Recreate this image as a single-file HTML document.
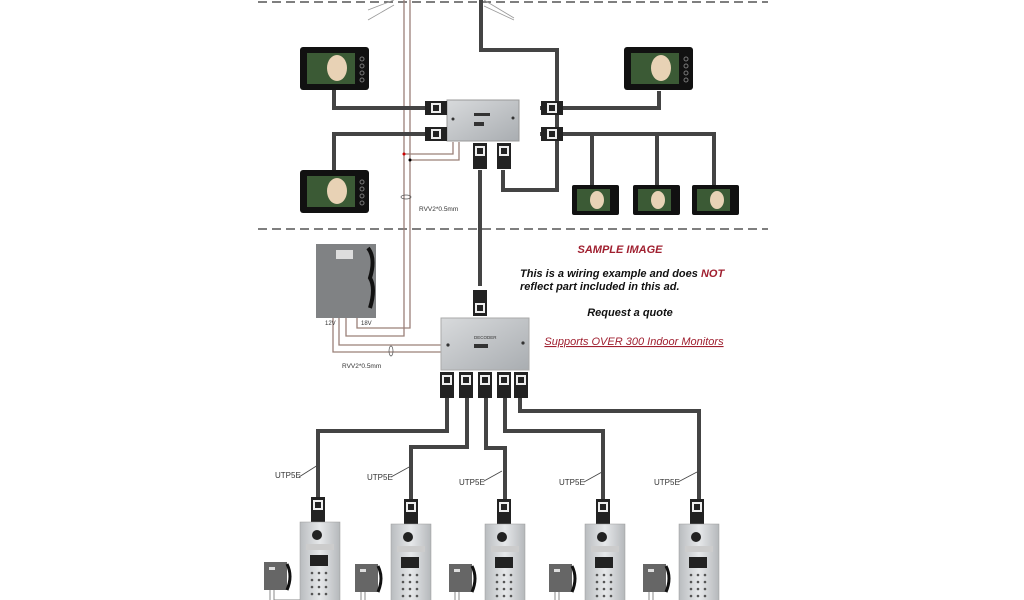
<!DOCTYPE html>
<html><head><style>
body{margin:0;background:#fff;}
svg{display:block;font-family:"Liberation Sans",sans-serif;}
</style></head><body>
<svg width="1024" height="600" viewBox="0 0 1024 600" xmlns="http://www.w3.org/2000/svg">
<defs>
<linearGradient id="g" x1="0" y1="0" x2="1" y2="1"><stop offset="0" stop-color="#d8dadc"/><stop offset="1" stop-color="#a9adb1"/></linearGradient>
<linearGradient id="p" x1="0" y1="0" x2="1" y2="0"><stop offset="0" stop-color="#b9bcbf"/><stop offset=".5" stop-color="#e6e8ea"/><stop offset="1" stop-color="#b5b8bb"/></linearGradient>
<g id="mon"><rect x="0" y="0" width="69" height="43" rx="3" fill="#111"/><rect x="7" y="6" width="48" height="31" fill="#3b5a35"/><ellipse cx="37" cy="21" rx="10" ry="13" fill="#e8d2b5"/><circle cx="62" cy="12" r="2" fill="none" stroke="#777"/><circle cx="62" cy="19" r="2" fill="none" stroke="#777"/><circle cx="62" cy="26" r="2" fill="none" stroke="#777"/><circle cx="62" cy="33" r="2" fill="none" stroke="#777"/></g>
<g id="smon"><rect x="0" y="0" width="47" height="30" rx="2" fill="#111"/><rect x="5" y="4" width="33" height="22" fill="#3b5a35"/><ellipse cx="25" cy="15" rx="7" ry="9" fill="#e8d2b5"/></g>
<g id="conv"><rect x="-7" y="0" width="14" height="26" fill="#222"/><rect x="-5" y="3" width="10" height="10" fill="#eee"/><rect x="-3" y="5" width="6" height="6" fill="#222"/></g>
<g id="conh"><rect x="0" y="-7" width="22" height="14" fill="#222"/><rect x="6" y="-5" width="10" height="10" fill="#eee"/><rect x="8" y="-3" width="6" height="6" fill="#222"/></g>
<g id="panel"><rect x="-20" y="0" width="40" height="80" fill="url(#p)" stroke="#999" stroke-width=".5"/><circle cx="-3" cy="13" r="5" fill="#222"/><rect x="-14" y="22" width="28" height="6" fill="#ccc"/><rect x="-10" y="33" width="18" height="11" fill="#222"/>
<g fill="#555"><circle cx="-8" cy="51" r="1.3"/><circle cx="-1" cy="51" r="1.3"/><circle cx="6" cy="51" r="1.3"/><circle cx="-8" cy="58" r="1.3"/><circle cx="-1" cy="58" r="1.3"/><circle cx="6" cy="58" r="1.3"/><circle cx="-8" cy="65" r="1.3"/><circle cx="-1" cy="65" r="1.3"/><circle cx="6" cy="65" r="1.3"/><circle cx="-8" cy="72" r="1.3"/><circle cx="-1" cy="72" r="1.3"/><circle cx="6" cy="72" r="1.3"/></g>
<rect x="-56" y="40" width="23" height="28" fill="#666"/><path d="M-33 42 q6 12 0 26" stroke="#111" stroke-width="3" fill="none"/><rect x="-51" y="45" width="6" height="3" fill="#ddd"/><path d="M-50 68 v12 M-46 68 v12 M-46 78 h26" stroke="#888" fill="none"/></g>
</defs>
<g stroke="#555" stroke-width="1.5" stroke-dasharray="9,5"><line x1="258" y1="2" x2="768" y2="2"/><line x1="258" y1="229" x2="768" y2="229"/></g>
<g stroke="#999" stroke-width=".8"><line x1="368" y1="10" x2="394" y2="0"/><line x1="368" y1="20" x2="394" y2="5"/><line x1="484" y1="0" x2="514" y2="18"/><line x1="484" y1="6" x2="514" y2="20"/></g>
<g stroke="#9a8078" stroke-width="1.3" fill="none">
<path d="M404 0 V336 H346 V318"/><path d="M410 0 V328 H357 V318"/>
<path d="M404 154 H453 V142"/><path d="M410 160 H459 V142"/>
<path d="M333 318 V352 H441"/><path d="M339 318 V345 H441"/>
</g>
<circle cx="404" cy="154" r="1.5" fill="#c00"/><circle cx="410" cy="160" r="1.5" fill="#000"/>
<ellipse cx="406" cy="197" rx="5" ry="2" fill="none" stroke="#555" stroke-width=".7"/>
<text x="419" y="211" font-size="6.5" fill="#333">RVV2*0.5mm</text>
<ellipse cx="391" cy="351" rx="2" ry="5" fill="none" stroke="#555" stroke-width=".7"/>
<text x="342" y="368" font-size="6.5" fill="#333">RVV2*0.5mm</text>
<g stroke="#444" stroke-width="4" fill="none">
<path d="M481 0 V50 H557 V190 H503 V170"/>
<path d="M334 90 V108 H426"/><path d="M334 170 V134 H426"/>
<path d="M540 108 H659 V91"/><path d="M540 134 H714 V185 M592 134 V185 M657 134 V185"/>
<path d="M480 170 V286"/>
<path d="M447 398 V431 H318 V500"/><path d="M467 398 V447 H411 V500"/><path d="M486 398 V448 H505 V500"/><path d="M505 398 V431 H603 V500"/><path d="M520 398 V411 H699 V500"/>
</g>
<use href="#mon" x="300" y="47"/><use href="#mon" x="624" y="47"/><use href="#mon" x="300" y="170"/>
<use href="#smon" x="572" y="185"/><use href="#smon" x="633" y="185"/><use href="#smon" x="692" y="185"/>
<rect x="447" y="100" width="72" height="41" fill="url(#g)" stroke="#999"/>
<rect x="474" y="113" width="16" height="3" fill="#333"/><rect x="474" y="122" width="10" height="4" fill="#333"/><circle cx="453" cy="119" r="1.5" fill="#333"/><circle cx="513" cy="118" r="1.5" fill="#333"/>
<use href="#conh" x="425" y="108"/><use href="#conh" x="425" y="134"/>
<g transform="translate(563 0) scale(-1 1)"><use href="#conh" x="0" y="108"/><use href="#conh" x="0" y="134"/></g>
<use href="#conv" x="480" y="143"/><use href="#conv" x="504" y="143"/>
<g transform="translate(480 316) scale(1 -1)"><use href="#conv" x="0" y="0"/></g>
<rect x="316" y="244" width="60" height="74" fill="#808284"/>
<rect x="336" y="250" width="17" height="9" fill="#ddd"/><path d="M368 248 q8 10 2 30 q6 10 0 30" stroke="#111" stroke-width="4" fill="none"/>
<text x="325" y="325" font-size="6" fill="#333">12V</text><text x="361" y="325" font-size="6" fill="#333">18V</text>
<rect x="441" y="318" width="88" height="52" fill="url(#g)" stroke="#aaa"/>
<text x="474" y="339" font-size="4.5" fill="#333">DECODER</text><rect x="474" y="344" width="14" height="4" fill="#333"/><circle cx="448" cy="345" r="1.6" fill="#333"/><circle cx="523" cy="343" r="1.6" fill="#333"/>
<use href="#conv" x="447" y="372"/><use href="#conv" x="466" y="372"/><use href="#conv" x="485" y="372"/><use href="#conv" x="504" y="372"/><use href="#conv" x="521" y="372"/>
<g stroke="#444" stroke-width=".8"><line x1="299" y1="477" x2="318" y2="465"/><line x1="391" y1="477" x2="411" y2="466"/><line x1="484" y1="481" x2="502" y2="471"/><line x1="584" y1="482" x2="602" y2="472"/><line x1="678" y1="482" x2="697" y2="472"/></g>
<g font-size="8" fill="#333"><text x="275" y="478">UTP5E</text><text x="367" y="480">UTP5E</text><text x="459" y="485">UTP5E</text><text x="559" y="485">UTP5E</text><text x="654" y="485">UTP5E</text></g>
<use href="#conv" x="318" y="497"/><use href="#conv" x="411" y="499"/><use href="#conv" x="504" y="499"/><use href="#conv" x="603" y="499"/><use href="#conv" x="697" y="499"/>
<use href="#panel" x="320" y="522"/><use href="#panel" x="411" y="524"/><use href="#panel" x="505" y="524"/><use href="#panel" x="605" y="524"/><use href="#panel" x="699" y="524"/>
<g font-style="italic" font-weight="bold" text-anchor="middle">
<text x="620" y="253" font-size="11" fill="#a02030">SAMPLE IMAGE</text>
<text x="520" y="277" font-size="11" fill="#111" text-anchor="start">This is a wiring example and does <tspan fill="#a02030">NOT</tspan></text>
<text x="520" y="290" font-size="11" fill="#111" text-anchor="start">reflect part included in this ad.</text>
<text x="630" y="316" font-size="11" fill="#111">Request a quote</text>
</g>
<text x="634" y="345" font-size="11" font-style="italic" fill="#a02030" text-anchor="middle" text-decoration="underline">Supports OVER 300 Indoor Monitors</text>
</svg>
</body></html>
